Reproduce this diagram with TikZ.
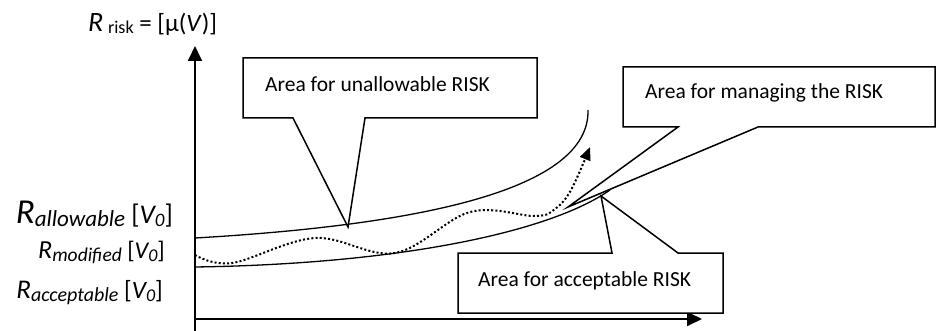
\documentclass[tikz,border=0pt]{standalone}
\usepackage{fontspec}
\setmainfont{Carlito}
\usetikzlibrary{arrows.meta}

\newcommand{\fs}[1]{\fontsize{#1}{#1}\selectfont}

\begin{document}
\begin{tikzpicture}
        [x=1pt,y=-1pt,
         axis/.style={line width=1.8pt,-{Triangle[length=15pt,width=14pt]}},
         curve/.style={line width=1.3pt},
         modcurve/.style={line width=2pt,dash pattern=on 2pt off 2.2pt,-{Triangle[length=13pt,width=11pt]}},
         callout/.style={draw,line width=1.5pt,fill=white,line join=miter},
         boxtext/.style={anchor=west,inner sep=0,font=\fs{21.5}},
         lbl/.style={anchor=base east,inner sep=0}]

        \useasboundingbox (0,0) rectangle (936,331);

        % axes
        \coordinate (yfoot) at (195,331);
        \coordinate (ytip) at (195,46);
        \coordinate (xfoot) at (194,319);
        \coordinate (xtip) at (702,319);
        \draw[axis] (yfoot) -- (ytip);
        \draw[axis] (xfoot) -- (xtip);

        \node[anchor=base west,inner sep=0] (rrisk) at (88,32)
          {\fs{28}\itshape R\,\raisebox{-2pt}{\fs{18}\upshape risk}\fs{25}\upshape\ = [μ(\textit{V})]};

        % curves
        \coordinate (alw0) at (195,238);
        \coordinate (alw1) at (588,110);
        \coordinate (acc0) at (195,267);
        \coordinate (acc1) at (610,190);
        \draw[curve] (alw0) .. controls (420,225) and (590,190) .. (alw1);
        \draw[curve] (acc0) .. controls (400,264) and (550,232) .. (acc1);
        \draw[modcurve] plot[smooth,tension=0.6] coordinates {(195,255) (232,263) (315,238) (395,253) (470,212) (535,216) (555,209) (571,190) (590,147)};

        % callouts
        \coordinate (tipunallow) at (348,227);
        \coordinate (tipmanage) at (568,207);
        \coordinate (tipaccept) at (601,196);
        \draw[callout] (243,58) -- (537,58) -- (537,118) -- (365,118) -- (tipunallow) -- (293,118) -- (243,118) -- cycle;
        \draw[callout] (623,67) -- (935,67) -- (935,127) -- (758,127) -- (tipmanage) -- (678,127) -- (623,127) -- cycle;
        \draw[callout] (458,253) -- (612,253) -- (tipaccept) -- (678,253) -- (723,253) -- (723,313) -- (458,313) -- cycle;

        \node[boxtext] (unallow) at (265,84) {Area for unallowable RISK};
        \node[boxtext] (manage) at (645,93) {Area for managing the RISK};
        \node[boxtext] (accept) at (478,281) {Area for acceptable RISK};

        % levels
        \node[lbl] (allow) at (173,223)
          {\fs{35}\itshape R\raisebox{-3pt}{\fs{23}allowable}\fs{27}\upshape\ [\textit{V\raisebox{-3pt}{\fs{19}0}}]};
        \node[lbl] (modif) at (165,258)
          {\fs{26}\itshape R\raisebox{-3pt}{\fs{19.5}modified}\fs{24}\upshape\ [\textit{V\raisebox{-3pt}{\fs{18}0}}]};
        \node[lbl] (accpt) at (163,298)
          {\fs{27}\itshape R\raisebox{-3pt}{\fs{20}acceptable}\fs{25}\upshape\ [\textit{V\raisebox{-3pt}{\fs{18}0}}]};
\end{tikzpicture}
\end{document}
